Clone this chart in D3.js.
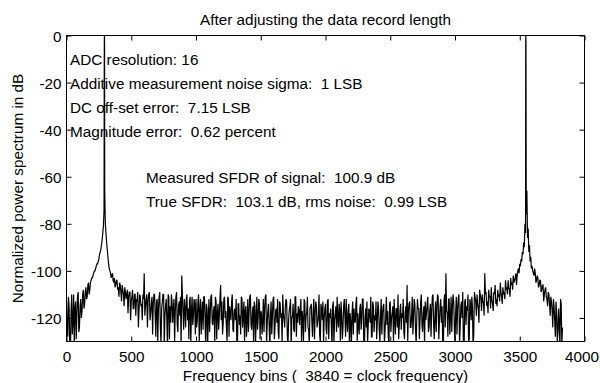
<!DOCTYPE html>
<html>
<head>
<meta charset="utf-8">
<script src="https://cdn.jsdelivr.net/npm/d3@7"></script>
<style>
body { margin: 0; background: #fff; }
text { font-family: "Liberation Sans", Arial, sans-serif; font-size: 15.3px; fill: #000; }
</style>
</head>
<body>
<div id="chart"></div>
<script>
//Spectrum data (dB), read every 10 bins: even samples at bins 0,10,20..., odd samples at bins 5,15,25...
var binStep = 10;
var spectrumDb = [
  -112, -128, -115, -135, -110, -121, -132, -113, -119, -109, -124, -112, -117, -108, -114, -107, -111, -105, -108, -104,
  -103, -101, -100, -98, -97, -95, -92, -89, -84, -74, -80, -88, -94, -99, -101, -102, -104, -103, -106, -104,
  -107, -105, -109, -106, -110, -107, -112, -108, -111, -109, -113, -108, -116, -110, -112, -109, -117, -111, -114, -110,
  -101, -115, -110, -113, -109, -118, -111, -114, -110, -128, -112, -116, -109, -131, -113, -110, -119, -112, -133, -111,
  -115, -110, -122, -112, -117, -109, -126, -113, -111, -102, -118, -112, -124, -110, -116, -113, -131, -111, -119, -114,
  -112, -121, -110, -117, -127, -113, -111, -120, -114, -132, -112, -118, -110, -123, -115, -111, -129, -114, -119, -106,
  -113, -122, -111, -117, -130, -112, -115, -121, -110, -126, -116, -112, -133, -114, -119, -111, -124, -113, -117, -128,
  -112, -118, -110, -125, -115, -113, -131, -111, -120, -114, -117, -127, -112, -116, -110, -122, -114, -134, -113, -119,
  -111, -124, -116, -112, -129, -114, -118, -110, -121, -115, -113, -132, -117, -112, -120, -114, -126, -111, -118, -115,
  -123, -112, -117, -130, -113, -119, -111, -125, -116, -114, -128, -112, -118, -115, -122, -110, -131, -116, -113, -120,
  -114, -127, -112, -118, -116, -133, -113, -121, -115, -111, -124, -117, -113, -129, -115, -119, -112, -126, -114, -118,
  -131, -113, -116, -122, -111, -118, -127, -114, -120, -112, -135, -116, -113, -123, -117, -111, -128, -115, -119, -113,
  -121, -116, -130, -112, -118, -114, -125, -111, -117, -132, -113, -120, -115, -112, -127, -116, -110, -123, -114, -118,
  -112, -129, -115, -106, -117, -113, -124, -111, -119, -114, -131, -112, -116, -121, -110, -126, -115, -113, -118, -111,
  -124, -114, -117, -110, -129, -113, -116, -111, -121, -112, -115, -133, -110, -101, -118, -112, -127, -111, -115, -113,
  -131, -111, -116, -110, -124, -113, -109, -135, -112, -115, -110, -129, -114, -111, -134, -109, -113, -110, -116, -108,
  -112, -110, -114, -101, -109, -113, -108, -111, -107, -114, -109, -106, -112, -108, -110, -105, -111, -107, -109, -104,
  -107, -104, -108, -103, -105, -102, -104, -101, -102, -99, -97, -95, -92, -88, -80, -76, -86, -92, -96, -99,
  -100, -102, -101, -104, -103, -106, -104, -108, -106, -110, -107, -112, -109, -114, -111, -117, -112, -121, -113, -130,
  -116, -133, -114, -124
];
var spectrumDbOdd = [
  -125, -111, -131, -118, -127, -110, -116, -129, -111, -126, -115, -120, -110, -116, -109, -112, -106, -110, -105, -103,
  -102, -100, -99, -97, -96, -93, -91, -87, -81, -66, -84, -91, -97, -100, -103, -101, -105, -107, -104, -108,
  -111, -106, -113, -108, -115, -109, -110, -118, -109, -121, -111, -116, -110, -119, -113, -124, -110, -115, -121, -112,
  -119, -112, -124, -110, -121, -114, -127, -110, -119, -113, -130, -111, -124, -116, -110, -132, -115, -121, -110, -129,
  -122, -113, -116, -130, -111, -123, -115, -119, -132, -110, -125, -116, -112, -121, -129, -111, -117, -123, -112, -127,
  -124, -113, -130, -112, -118, -125, -111, -133, -116, -120, -126, -111, -122, -117, -131, -113, -118, -125, -112, -121,
  -127, -112, -120, -124, -111, -128, -118, -113, -125, -117, -121, -130, -114, -123, -127, -112, -119, -131, -115, -121,
  -126, -111, -123, -118, -132, -115, -120, -125, -112, -129, -118, -121, -126, -111, -131, -117, -123, -119, -127, -112,
  -129, -117, -122, -126, -113, -120, -131, -118, -124, -112, -127, -121, -115, -133, -119, -125, -111, -128, -122, -117,
  -116, -130, -121, -112, -126, -118, -124, -132, -115, -122, -117, -129, -113, -124, -119, -127, -114, -121, -130, -116,
  -125, -113, -129, -120, -123, -115, -131, -118, -126, -121, -114, -130, -119, -124, -112, -128, -121, -117, -133, -122,
  -118, -127, -121, -114, -130, -123, -116, -125, -112, -129, -120, -124, -131, -116, -122, -128, -113, -126, -121, -129,
  -113, -125, -119, -127, -115, -131, -120, -123, -128, -114, -126, -118, -130, -121, -116, -124, -129, -117, -125, -120,
  -126, -118, -122, -130, -114, -124, -119, -127, -112, -125, -120, -116, -129, -113, -123, -118, -131, -121, -114, -126,
  -117, -128, -111, -123, -119, -126, -110, -129, -115, -122, -130, -113, -124, -117, -128, -112, -120, -126, -110, -124,
  -118, -127, -112, -131, -115, -120, -133, -113, -123, -117, -130, -112, -121, -116, -126, -111, -119, -114, -122, -110,
  -117, -113, -119, -110, -115, -118, -111, -116, -112, -117, -110, -114, -115, -111, -113, -109, -114, -110, -112, -108,
  -110, -107, -111, -106, -108, -105, -103, -106, -100, -101, -98, -96, -93, -90, -84, -66, -82, -89, -94, -98,
  -101, -99, -105, -102, -107, -104, -109, -106, -113, -108, -111, -115, -110, -119, -113, -124, -115, -128, -118, -126,
  -122, -112, -131
];

//Signal tones (bins at the fundamental and its image)
var peakBins = [291, 292, 293, 294, 3546, 3547, 3548, 3549];
var peakDb = [-35, -3, 0, -4, -4, 0, -3, -35];

var xTicks = [0, 500, 1000, 1500, 2000, 2500, 3000, 3500, 4000];
var yTicks = [0, -20, -40, -60, -80, -100, -120];

var titleText = "After adjusting the data record length";
var xLabel = "Frequency bins (  3840 = clock frequency)";
var yLabel = "Normalized power spectrum in dB";
var infoLines = [
  "ADC resolution: 16",
  "Additive measurement noise sigma:  1 LSB",
  "DC off-set error:  7.15 LSB",
  "Magnitude error:  0.62 percent"
];
var sfdrLines = [
  "Measured SFDR of signal:  100.9 dB",
  "True SFDR:  103.1 dB, rms noise:  0.99 LSB"
];

//Chart set up
var svgWidth = 600;
var svgHeight = 383;
var margin = { top: 35.5, right: 15.5, bottom: 41.5, left: 66.5 };
var width = svgWidth - margin.left - margin.right;
var height = svgHeight - margin.top - margin.bottom;

var svg = d3.select("#chart")
    .append("svg")
    .attr("width", svgWidth)
    .attr("height", svgHeight);

var chartGroup = svg.append("g")
    .attr("transform", `translate(${margin.left}, ${margin.top})`);

var xScale = d3.scaleLinear().domain([0, 4000]).range([0, width]);
var yScale = d3.scaleLinear().domain([-130, 0]).range([height, 0]);

//combine noise samples and tone bins
var points = spectrumDb.map((v, i) => ({ bin: i * binStep, db: v }))
    .concat(spectrumDbOdd.map((v, i) => ({ bin: i * binStep + binStep / 2, db: v })))
    .concat(peakBins.map((b, i) => ({ bin: b, db: peakDb[i] })))
    .sort((a, b) => a.bin - b.bin);

svg.append("defs").append("clipPath")
    .attr("id", "plotClip")
    .append("rect")
    .attr("width", width)
    .attr("height", height);

var line = d3.line()
    .x(d => xScale(d.bin))
    .y(d => yScale(d.db));

chartGroup.append("path")
    .datum(points)
    .attr("clip-path", "url(#plotClip)")
    .attr("fill", "none")
    .attr("stroke", "#000")
    .attr("stroke-width", 1.2)
    .attr("d", line);

//axes (ticks inside, matlab style)
var fmt = d => String(d);

var xAxisG = chartGroup.append("g")
    .attr("transform", `translate(0, ${height})`)
    .call(d3.axisBottom(xScale).tickValues(xTicks).tickFormat(fmt).tickSizeInner(-5).tickSizeOuter(0).tickPadding(10));

chartGroup.append("g")
    .call(d3.axisTop(xScale).tickValues(xTicks).tickFormat("").tickSizeInner(-5).tickSizeOuter(0));

chartGroup.append("g")
    .call(d3.axisLeft(yScale).tickValues(yTicks).tickFormat(fmt).tickSizeInner(-5).tickSizeOuter(0).tickPadding(5));

chartGroup.append("g")
    .attr("transform", `translate(${width}, 0)`)
    .call(d3.axisRight(yScale).tickValues(yTicks).tickFormat("").tickSizeInner(-5).tickSizeOuter(0));

chartGroup.selectAll(".domain").remove();
chartGroup.selectAll(".tick line").attr("stroke", "#000");
chartGroup.selectAll(".tick text")
    .attr("fill", "#000")
    .style("font-size", "15.3px")
    .style("font-family", "'Liberation Sans', Arial, sans-serif");
chartGroup.selectAll(".tick text").filter(function () { return this.getAttribute("dy") === "0.32em"; })
    .attr("dy", "0.38em");

//keep the last x label inside the page
xAxisG.selectAll(".tick text").filter(d => d === 4000)
    .attr("text-anchor", "end")
    .attr("x", 14);

chartGroup.append("rect")
    .attr("width", width)
    .attr("height", height)
    .attr("fill", "none")
    .attr("stroke", "#000")
    .attr("stroke-width", 1);

//title and axis labels
svg.append("text")
    .attr("x", margin.left + width / 2)
    .attr("y", 25)
    .attr("text-anchor", "middle")
    .text(titleText);

svg.append("text")
    .attr("x", margin.left + width / 2)
    .attr("y", 381)
    .attr("text-anchor", "middle")
    .style("white-space", "pre")
    .text(xLabel);

svg.append("text")
    .attr("transform", `translate(23, ${margin.top + height / 2})rotate(-90)`)
    .attr("text-anchor", "middle")
    .text(yLabel);

//annotations
chartGroup.selectAll(".info")
    .data(infoLines)
    .enter()
    .append("text")
    .attr("class", "info")
    .attr("x", 3.5)
    .attr("y", (d, i) => 29.5 + i * 24)
    .style("white-space", "pre")
    .text(d => d);

chartGroup.selectAll(".sfdr")
    .data(sfdrLines)
    .enter()
    .append("text")
    .attr("class", "sfdr")
    .attr("x", 79.5)
    .attr("y", (d, i) => 147 + i * 24)
    .style("white-space", "pre")
    .text(d => d);
</script>
</body>
</html>
